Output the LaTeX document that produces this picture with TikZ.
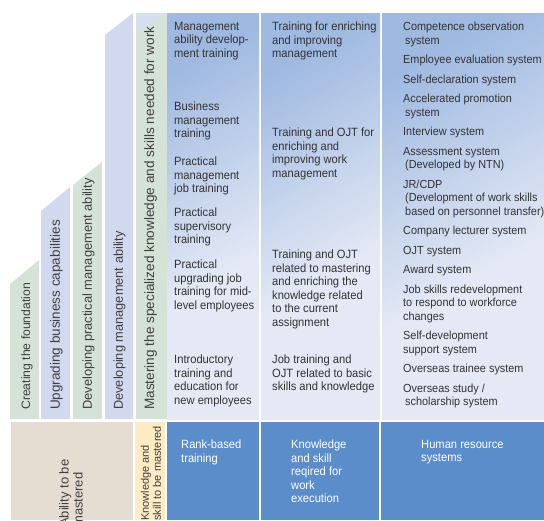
\documentclass[tikz,border=0pt]{standalone}
\usepackage{fontspec}
\setmainfont{Liberation Sans}
\newfontfamily\narrowfont{Liberation Sans}[FakeStretch=0.93]
\usetikzlibrary{positioning}
\definecolor{stepgreen}{HTML}{D4E3D6}
\definecolor{steplav}{HTML}{D2D8EE}
\definecolor{toplav}{HTML}{D6DEF1}
\definecolor{beigebox}{HTML}{E5DDD2}
\definecolor{yellowbox}{HTML}{FDEBC3}
\definecolor{bluebox}{HTML}{5A8DCA}
\definecolor{bodytop}{HTML}{9FB9E1}
\definecolor{bodybot}{HTML}{E4E9F5}
\definecolor{bodytext}{HTML}{333333}
\definecolor{labeltext}{HTML}{404040}
\pgfdeclareverticalshading{bodyfade}{100bp}{color(0bp)=(bodybot); color(40bp)=(bodybot); color(75bp)=(bodytop); color(100bp)=(bodytop)}
\tikzset{
  steplabel/.style={rotate=90, anchor=west, inner sep=0pt, text=labeltext, font=\fontsize{12.5}{14}\selectfont},
  cell/.style={anchor=north west, inner sep=0pt, align=left, text=bodytext, font=\narrowfont\fontsize{12}{13.5}\selectfont},
  headtext/.style={cell, text=white},
  bodycol/.style={shading=bodyfade, shading angle=30}
}

\begin{document}
\begin{tikzpicture}[x=1pt, y=-1pt]
    \useasboundingbox (0,0) rectangle (544,520);

    % stepped columns on the left
    \foreach \xl/\xr/\yl/\yr/\col in {10/39/284/260/stepgreen, 41/70/211/187/steplav, 73/102/185/162/stepgreen, 105/133/35/13/steplav}
        \fill[\col] (\xl,\yl) -- (\xr,\yr) -- (\xr,419) -- (\xl,419) -- cycle;
    \fill[toplav] (136,13) rectangle (167,419);
    \fill[stepgreen] (136,32) -- (167,13) -- (167,419) -- (136,419) -- cycle;

    % main columns
    \shade[bodycol] (167,13) rectangle (259,419);
    \shade[bodycol] (261,13) rectangle (380,419);
    \shade[bodycol] (382,13) rectangle (544,419);

    % bottom row
    \fill[beigebox] (11,422) rectangle (133,520);
    \fill[yellowbox] (135,422) rectangle (165,520);
    \fill[bluebox] (167,422) rectangle (259,520);
    \fill[bluebox] (261,422) rectangle (379,520);
    \fill[bluebox] (381,422) rectangle (544,520);

    \node[steplabel, font=\fontsize{12.2}{14}\selectfont] (found) at (27,410) {Creating the foundation};
    \node[steplabel, font=\fontsize{13.5}{15}\selectfont] (upgrade) at (56.5,410) {Upgrading business capabilities};
    \node[steplabel, font=\fontsize{12.9}{14}\selectfont] (practical) at (88.5,410) {Developing practical management ability};
    \node[steplabel, font=\fontsize{12.8}{14}\selectfont] (develop) at (119.5,410) {Developing management ability};
    \node[steplabel, font=\fontsize{13.6}{15}\selectfont] (master) at (150.5,410) {Mastering the specialized knowledge and skills needed for work};

    \node[steplabel, align=left, font=\fontsize{13}{14}\selectfont] (ability) at (71,527) {Ability to be\\mastered};
    \node[steplabel, align=left, font=\fontsize{11}{12}\selectfont] (knowskill) at (151,521) {Knowledge and\\skill to be mastered};

    % rank-based training
    \node[cell] (mgmt) at (174,22) {Management\\ability develop-\\ment training};
    \node[cell] (business) at (174,102) {Business\\management\\training};
    \node[cell] (pracjob) at (174,157) {Practical\\management\\job training};
    \node[cell] (pracsup) at (174,208) {Practical\\supervisory\\training};
    \node[cell] (pracup) at (174,260) {Practical\\upgrading job\\training for mid-\\level employees};
    \node[cell] (intro) at (174,355) {Introductory\\training and\\education for\\new employees};

    % knowledge and skill
    \node[cell] (enrich) at (272,22) {Training for enriching\\and improving\\management};
    \node[cell] (ojtwork) at (272,128) {Training and OJT for\\enriching and\\improving work\\management};
    \node[cell] (ojtassign) at (272,250) {Training and OJT\\related to mastering\\and enriching the\\knowledge related\\to the current\\assignment};
    \node[cell] (ojtbasic) at (272,355) {Job training and\\OJT related to basic\\skills and knowledge};

    % human resource systems
    \node[cell, font=\narrowfont\fontsize{11.7}{13.5}\selectfont] (hrlist) at (403,22) {Competence observation\\\hspace*{2pt}system\\[6pt]
        Employee evaluation system\\[6pt]
        Self-declaration system\\[6pt]
        Accelerated promotion\\\hspace*{2pt}system\\[6pt]
        Interview system\\[6pt]
        Assessment system\\\hspace*{2pt}(Developed by NTN)\\[6pt]
        JR/CDP\\\hspace*{2pt}(Development of work skills\\\hspace*{2pt}based on personnel transfer)\\[6pt]
        Company lecturer system\\[6pt]
        OJT system\\[6pt]
        Award system\\[6pt]
        Job skills redevelopment\\to respond to workforce\\changes\\[6pt]
        Self-development\\support system\\[6pt]
        Overseas trainee system\\[6pt]
        Overseas study /\\\hspace*{2pt}scholarship system};

    % headings of the bottom row
    \node[headtext] (rank) at (181,440) {Rank-based\\training};
    \node[headtext] (required) at (291,440) {Knowledge\\and skill\\reqired for\\work\\execution};
    \node[headtext] (hrsys) at (421,440) {Human resource\\systems};
\end{tikzpicture}
\end{document}
